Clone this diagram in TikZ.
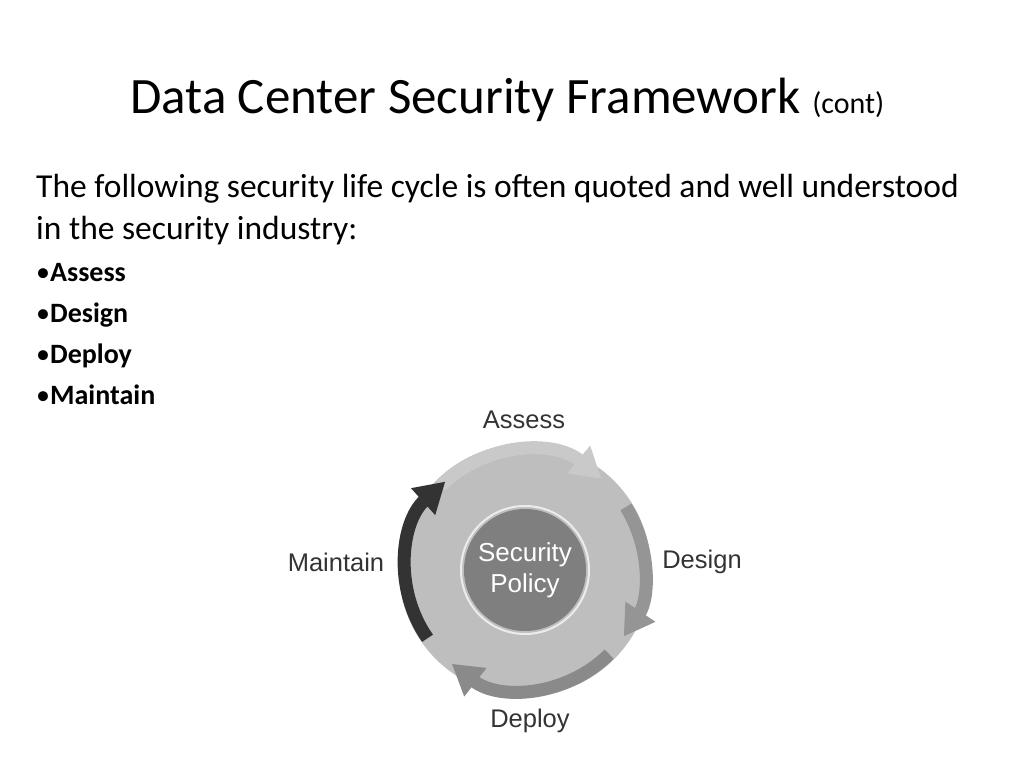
\documentclass[tikz,border=0pt]{standalone}
\usepackage{fontspec}
\setmainfont{Carlito}
\newfontfamily\arial{Liberation Sans}
\usetikzlibrary{arrows.meta}
\definecolor{disk}{HTML}{BEBEBE}
\definecolor{inner}{HTML}{7F7F7F}
\definecolor{arcA}{HTML}{C9C9C9}
\definecolor{arcB}{HTML}{959595}
\definecolor{arcC}{HTML}{8A8A8A}
\definecolor{arcD}{HTML}{333333}
\tikzset{
 txt/.style={anchor=base west,inner sep=0pt,font=\fontsize{33.5}{38}\selectfont},
 bul/.style={anchor=base west,inner sep=0pt,font=\fontsize{28}{32}\selectfont},
 lab/.style={inner sep=0pt,font=\arial\fontsize{25.5}{30}\selectfont,text=black!80},
 cyc/.style={line width=13pt,-{Triangle[length=30pt,width=34pt]}}
}
\begin{document}
\begin{tikzpicture}[x=1pt,y=1pt]
\useasboundingbox (0,0) rectangle (1024,768);
\node[anchor=base west,inner sep=0pt] (title) at (130,654) {\fontsize{51}{56}\selectfont Data Center Security Framework \fontsize{30}{34}\selectfont(cont)};
\node[txt] (l1) at (36,570) {The following security life cycle is often quoted and well understood};
\node[txt] (l2) at (36,528) {in the security industry:};
\node[bul] (b1) at (36,486) {\textbullet\textbf{Assess}};
\node[bul] (b2) at (36,445) {\textbullet\textbf{Design}};
\node[bul] (b3) at (36,404) {\textbullet\textbf{Deploy}};
\node[bul] (b4) at (36,363) {\textbullet\textbf{Maintain}};
\coordinate (c) at (525,198);
\fill[disk] (c) circle (126);
\draw[white!85!gray,line width=2pt] (c) circle (64);
\node[circle,fill=inner,minimum size=122pt,inner sep=0pt,align=center,text=white,font=\arial\fontsize{26}{31}\selectfont] (sp) at (c) {Security\\Policy};
\draw[cyc,arcA] ([shift={(135:119)}]c) arc[start angle=135,end angle=50,radius=119];
\draw[cyc,arcB] ([shift={(32:119)}]c) arc[start angle=32,end angle=-34,radius=119];
\draw[cyc,arcC] ([shift={(-45:119)}]c) arc[start angle=-45,end angle=-128,radius=119];
\draw[cyc,arcD] ([shift={(-145:119)}]c) arc[start angle=-145,end angle=-228,radius=119];
\node[lab] (assess) at (524,348) {Assess};
\node[lab] (design) at (702,206) {Design};
\node[lab] (deploy) at (530,47) {Deploy};
\node[lab] (maint) at (336,206) {Maintain};
\end{tikzpicture}
\end{document}
